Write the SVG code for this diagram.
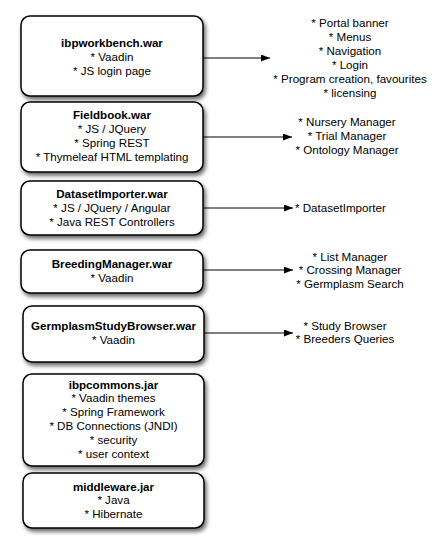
<svg xmlns="http://www.w3.org/2000/svg" width="439" height="552" viewBox="0 0 439 552">
<defs>
<filter id="sh" x="-10%" y="-10%" width="125%" height="135%">
<feGaussianBlur in="SourceAlpha" stdDeviation="2"/>
<feOffset dx="2" dy="3" result="b"/>
<feComponentTransfer><feFuncA type="linear" slope="0.6"/></feComponentTransfer>
<feMerge><feMergeNode/><feMergeNode in="SourceGraphic"/></feMerge>
</filter>
<marker id="ah" markerWidth="9" markerHeight="7" refX="9" refY="3.5" orient="auto" markerUnits="userSpaceOnUse">
<path d="M0,0 L9,3.5 L0,7 z" fill="#000"/>
</marker>
</defs>
<style>
.box{fill:#fff;stroke:#000;stroke-width:1.5;filter:url(#sh)}
text{font-family:"Liberation Sans",Arial,sans-serif;font-size:11.6px;fill:#000;text-anchor:middle}
.t{font-weight:bold}
.l{text-anchor:start}
.c{stroke:#000;stroke-width:1;fill:none;marker-end:url(#ah)}
</style>
<rect width="439" height="552" fill="#fff"/>
<g id="connectors">
<line class="c" x1="203" y1="58" x2="270" y2="58"/>
<line class="c" x1="203" y1="137" x2="292" y2="137"/>
<line class="c" x1="203" y1="208" x2="293" y2="208"/>
<line class="c" x1="203" y1="270" x2="293" y2="270"/>
<line class="c" x1="204" y1="333" x2="293" y2="333"/>
</g>
<g id="ibpworkbench">
<rect class="box" x="21" y="16" width="182" height="80" rx="9"/>
<text class="t" x="112" y="47">ibpworkbench.war</text>
<text x="112" y="61">* Vaadin</text>
<text x="112" y="75">* JS login page</text>
</g>
<g id="fieldbook">
<rect class="box" x="21" y="102" width="182" height="70" rx="9"/>
<text class="t" x="112" y="119">Fieldbook.war</text>
<text x="112" y="133">* JS / JQuery</text>
<text x="112" y="147">* Spring REST</text>
<text x="112" y="161">* Thymeleaf HTML templating</text>
</g>
<g id="datasetimporter">
<rect class="box" x="21" y="181" width="182" height="54" rx="9"/>
<text class="t" x="112" y="198">DatasetImporter.war</text>
<text x="112" y="212">* JS / JQuery / Angular</text>
<text x="112" y="226">* Java REST Controllers</text>
</g>
<g id="breedingmanager">
<rect class="box" x="21" y="250" width="182" height="43" rx="9"/>
<text class="t" x="112" y="268">BreedingManager.war</text>
<text x="112" y="282">* Vaadin</text>
</g>
<g id="germplasmstudybrowser">
<rect class="box" x="23" y="306" width="181" height="56" rx="9"/>
<text class="t" x="113.5" y="330">GermplasmStudyBrowser.war</text>
<text x="113.5" y="344">* Vaadin</text>
</g>
<g id="ibpcommons">
<rect class="box" x="23" y="374" width="181" height="92" rx="9"/>
<text class="t" x="113.5" y="389">ibpcommons.jar</text>
<text x="113.5" y="402">* Vaadin themes</text>
<text x="113.5" y="416">* Spring Framework</text>
<text x="113.5" y="430">* DB Connections (JNDI)</text>
<text x="113.5" y="444">* security</text>
<text x="113.5" y="458">* user context</text>
</g>
<g id="middleware">
<rect class="box" x="23" y="473" width="181" height="55" rx="9"/>
<text class="t" x="113.5" y="491">middleware.jar</text>
<text x="113.5" y="504">* Java</text>
<text x="113.5" y="518">* Hibernate</text>
</g>
<g id="workbench-features">
<text x="350" y="27">* Portal banner</text>
<text x="350" y="41">* Menus</text>
<text x="350" y="55">* Navigation</text>
<text x="350" y="69">* Login</text>
<text x="350" y="83">* Program creation, favourites</text>
<text x="350" y="97">* licensing</text>
</g>
<g id="fieldbook-features">
<text x="347" y="126">* Nursery Manager</text>
<text x="347" y="140">* Trial Manager</text>
<text x="347" y="154">* Ontology Manager</text>
</g>
<g id="datasetimporter-features">
<text class="l" x="295" y="212">* DatasetImporter</text>
</g>
<g id="breedingmanager-features">
<text x="350" y="261">* List Manager</text>
<text x="350" y="274">* Crossing Manager</text>
<text x="350" y="288">* Germplasm Search</text>
</g>
<g id="germplasmstudybrowser-features">
<text x="345" y="330">* Study Browser</text>
<text x="345" y="343">* Breeders Queries</text>
</g>
</svg>
